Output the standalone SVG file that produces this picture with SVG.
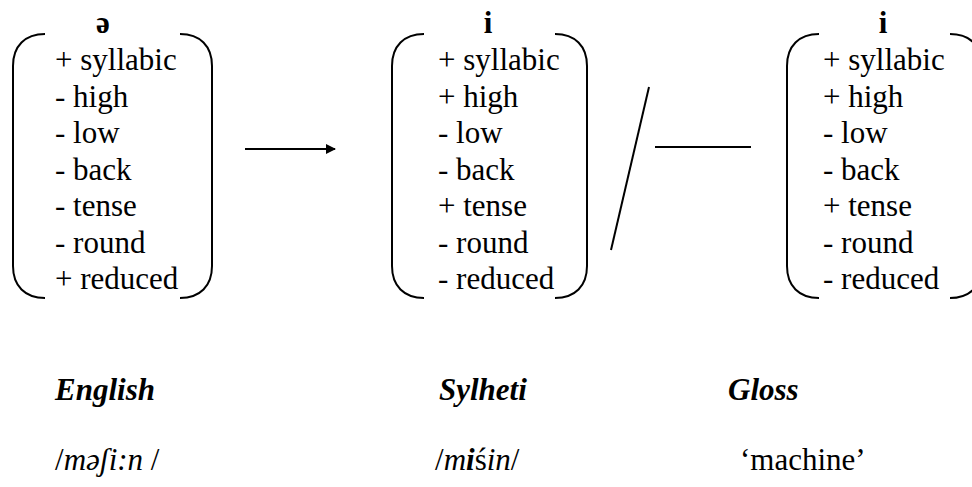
<svg xmlns="http://www.w3.org/2000/svg" width="972" height="487" viewBox="0 0 972 487">
  <defs>
    <marker id="arrowhead" markerWidth="10" markerHeight="10" refX="9" refY="5" orient="auto" markerUnits="userSpaceOnUse" viewBox="0 0 10 10">
      <path d="M0,0 L10,5 L0,10 Z" fill="#000"/>
    </marker>
    <!-- left and right halves of a feature-matrix bracket, drawn at the origin -->
    <path id="brL" fill="none" stroke="#000" stroke-width="2" d="M32,34 C12,34 0,46 0,66 L0,266 C0,286 12,298 32,298"/>
    <path id="brR" fill="none" stroke="#000" stroke-width="2" d="M-32,34 C-12,34 0,46 0,66 L0,266 C0,286 -12,298 -32,298"/>
  </defs>

  <!-- schwa matrix -->
  <g id="matrix-schwa" font-family="Times New Roman" font-size="31">
    <use href="#brL" x="13"/>
    <use href="#brR" x="212"/>
    <text font-family="Times New Roman" font-weight="bold" x="103" y="33" text-anchor="middle">ə</text>
    <text font-family="Times New Roman" x="55" y="70">+ syllabic</text>
    <text font-family="Times New Roman" x="55" y="106.5">- high</text>
    <text font-family="Times New Roman" x="55" y="143">- low</text>
    <text font-family="Times New Roman" x="55" y="179.5">- back</text>
    <text font-family="Times New Roman" x="55" y="216">- tense</text>
    <text font-family="Times New Roman" x="55" y="252.5">- round</text>
    <text font-family="Times New Roman" x="55" y="289">+ reduced</text>
  </g>

  <!-- output vowel matrix -->
  <g id="matrix-i-output" font-family="Times New Roman" font-size="31">
    <use href="#brL" x="392"/>
    <use href="#brR" x="587"/>
    <text font-family="Times New Roman" font-weight="bold" x="488" y="33" text-anchor="middle">i</text>
    <text font-family="Times New Roman" x="438" y="70">+ syllabic</text>
    <text font-family="Times New Roman" x="438" y="106.5">+ high</text>
    <text font-family="Times New Roman" x="438" y="143">- low</text>
    <text font-family="Times New Roman" x="438" y="179.5">- back</text>
    <text font-family="Times New Roman" x="438" y="216">+ tense</text>
    <text font-family="Times New Roman" x="438" y="252.5">- round</text>
    <text font-family="Times New Roman" x="438" y="289">- reduced</text>
  </g>

  <!-- conditioning vowel matrix -->
  <g id="matrix-i-context" font-family="Times New Roman" font-size="31">
    <use href="#brL" x="787"/>
    <use href="#brR" x="982"/>
    <text font-family="Times New Roman" font-weight="bold" x="883" y="33" text-anchor="middle">i</text>
    <text font-family="Times New Roman" x="823" y="70">+ syllabic</text>
    <text font-family="Times New Roman" x="823" y="106.5">+ high</text>
    <text font-family="Times New Roman" x="823" y="143">- low</text>
    <text font-family="Times New Roman" x="823" y="179.5">- back</text>
    <text font-family="Times New Roman" x="823" y="216">+ tense</text>
    <text font-family="Times New Roman" x="823" y="252.5">- round</text>
    <text font-family="Times New Roman" x="823" y="289">- reduced</text>
  </g>

  <!-- rule notation: arrow, environment slash and focus bar -->
  <g id="connectors" stroke="#000" stroke-width="2" fill="none">
    <line x1="245" y1="149" x2="335" y2="149" marker-end="url(#arrowhead)"/>
    <line x1="649" y1="87" x2="611" y2="250"/>
    <line x1="655" y1="147" x2="751" y2="147"/>
  </g>

  <!-- example table -->
  <g id="example" font-family="Times New Roman" font-size="31">
    <text font-family="Times New Roman" font-weight="bold" font-style="italic" x="55" y="400">English</text>
    <text font-family="Times New Roman" font-weight="bold" font-style="italic" x="439" y="400">Sylheti</text>
    <text font-family="Times New Roman" font-weight="bold" font-style="italic" x="728" y="400">Gloss</text>
    <text font-family="Times New Roman" x="55" y="470">/<tspan font-style="italic">məʃi:n</tspan> /</text>
    <text font-family="Times New Roman" x="435" y="470">/<tspan font-style="italic">m</tspan><tspan font-style="italic" font-weight="bold">i</tspan>ś<tspan font-style="italic">in</tspan>/</text>
    <text font-family="Times New Roman" x="740" y="470">‘machine’</text>
  </g>
</svg>
